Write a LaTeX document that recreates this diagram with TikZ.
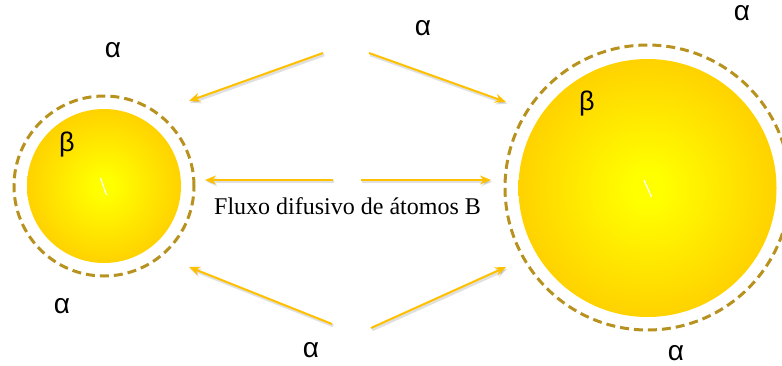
\documentclass[tikz,border=0pt]{standalone}
\usepackage{fontspec}
\setmainfont{Liberation Serif}
\newfontfamily\sansf{Liberation Sans}
\usetikzlibrary{arrows.meta}
\definecolor{arr}{HTML}{FFC000}
\definecolor{dashc}{HTML}{B8921E}
\definecolor{ballc}{HTML}{FFFF00}
\definecolor{balle}{HTML}{FFD200}
\pgfdeclareradialshading{ball}{\pgfpoint{0bp}{0bp}}{color(0bp)=(ballc); color(3bp)=(ballc); color(25bp)=(balle); color(50bp)=(balle)}
\begin{document}
\begin{tikzpicture}[x=1pt,y=-1pt,
  tipstyle/.style={-{Stealth[length=11pt,width=9pt]}},
  flux/.style={draw=arr, line width=2pt, tipstyle},
  fluxshadow/.style={draw=black, opacity=0.12, line width=3pt, tipstyle},
  alab/.style={font=\sansf\fontsize{28}{28}\selectfont, inner sep=0pt},
  blab/.style={font=\sansf\fontsize{27}{27}\selectfont, inner sep=0pt},
  ballstyle/.style={circle, shading=ball, inner sep=0pt, draw=none},
  ringstyle/.style={circle, draw=dashc, line width=3pt, dash pattern=on 9pt off 5pt, inner sep=0pt},
  tickstyle/.style={draw=white, line width=1.2pt}]
\useasboundingbox (0,0) rectangle (782,365);
% particles
\node[ringstyle, minimum size=180pt] (ringS) at (104,186) {};
\node[ballstyle, minimum size=154pt] (ballS) at (104,186) {};
\node[ringstyle, minimum size=285pt] (ringL) at (647.5,187.5) {};
\node[ballstyle, minimum size=258pt] (ballL) at (647.5,188) {};
\draw[tickstyle] (100.5,178) -- (106.5,195);
\draw[tickstyle] (644,180) -- (651.5,197);
% labels
\node[blab] (bS) at (67,145) {β};
\node[blab] (bL) at (587,104) {β};
\node[alab] (a1) at (113,50) {α};
\node[alab] (a2) at (423,28) {α};
\node[alab] (a3) at (742,13) {α};
\node[alab] (a4) at (62,306) {α};
\node[alab] (a5) at (311,350) {α};
\node[alab] (a6) at (676,353) {α};
\node[font=\fontsize{24}{24}\selectfont, inner sep=0pt, anchor=base] (flux) at (347.5,214) {Fluxo difusivo de átomos B};
% arrow end points
\coordinate (t1s) at (323,53);  \coordinate (t1e) at (189,101);
\coordinate (t2s) at (369,53);  \coordinate (t2e) at (506,102);
\coordinate (m1s) at (333,180); \coordinate (m1e) at (205,180);
\coordinate (m2s) at (361,180); \coordinate (m2e) at (491,180);
\coordinate (b1s) at (332,324); \coordinate (b1e) at (189,267);
\coordinate (b2s) at (371,328); \coordinate (b2e) at (506,267);
\foreach \s/\e in {t1s/t1e,t2s/t2e,m1s/m1e,m2s/m2e,b1s/b1e,b2s/b2e}{
  \draw[fluxshadow] ([shift={(1.2,1.8)}]\s) -- ([shift={(1.2,1.8)}]\e);
  \draw[flux] (\s) -- (\e);
}
\end{tikzpicture}
\end{document}
